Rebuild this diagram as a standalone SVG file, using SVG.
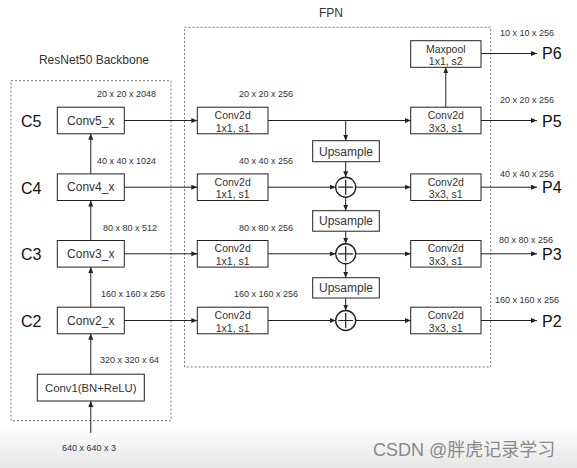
<svg xmlns="http://www.w3.org/2000/svg" width="577" height="468" viewBox="0 0 577 468">
<defs>
<marker id="ah" viewBox="0 0 6 6" refX="6" refY="3" markerWidth="6" markerHeight="6" markerUnits="userSpaceOnUse" orient="auto">
<path d="M0,0.5 L6,3 L0,5.5 z" fill="#222"/>
</marker>
<linearGradient id="bg" x1="0" y1="0" x2="0" y2="1">
<stop offset="0" stop-color="#ffffff"/>
<stop offset="1" stop-color="#e6e6e6"/>
</linearGradient>
</defs>
<style>
text{font-family:"Liberation Sans",Arial,sans-serif;fill:#333}
.box{fill:#fff;stroke:#222;stroke-width:1}
.circ{fill:#fff;stroke:#222;stroke-width:1.4}
.dash{fill:none;stroke:#777;stroke-width:1;stroke-dasharray:2,2}
.ln{fill:none;stroke:#222;stroke-width:1.2}
.arr{fill:none;stroke:#222;stroke-width:1;marker-end:url(#ah)}
.t12{font-size:12px;text-anchor:middle}
.t10{font-size:10.5px;text-anchor:middle}
.dim{font-size:9px}
.big{font-size:16px;fill:#111}
.title{font-size:12px;text-anchor:middle}
</style>
<rect x="0" y="0" width="577" height="468" fill="#fff"/>
<rect x="0" y="425" width="577" height="43" fill="url(#bg)"/>

<g id="backbone">
<rect class="dash" x="11" y="80.7" width="160" height="340"/>
<text class="title" x="94" y="64">ResNet50 Backbone</text>
</g>
<g id="fpn">
<rect class="dash" x="184.5" y="27.3" width="306.2" height="339.7"/>
<text class="title" x="331" y="17">FPN</text>
</g>

<g id="conv5">
<rect class="box" x="57.3" y="107.2" width="67" height="26.6"/>
<text class="t12" x="90.8" y="124.5">Conv5_x</text>
<text class="big" x="21" y="127">C5</text>
</g>
<g id="conv4">
<rect class="box" x="57.3" y="173.9" width="67" height="26.6"/>
<text class="t12" x="90.8" y="191.2">Conv4_x</text>
<text class="big" x="21" y="193.5">C4</text>
</g>
<g id="conv3">
<rect class="box" x="57.3" y="240.5" width="67" height="26.6"/>
<text class="t12" x="90.8" y="257.8">Conv3_x</text>
<text class="big" x="21" y="260">C3</text>
</g>
<g id="conv2">
<rect class="box" x="57.3" y="307.2" width="67" height="26.6"/>
<text class="t12" x="90.8" y="324.5">Conv2_x</text>
<text class="big" x="21" y="327">C2</text>
</g>
<g id="conv1">
<rect class="box" x="37.3" y="374.2" width="107" height="26.8"/>
<text class="t12" x="90.8" y="391.8" style="font-size:11.3px">Conv1(BN+ReLU)</text>
</g>

<g id="lat5">
<rect class="box" x="197.3" y="107.2" width="70.7" height="26.6"/>
<text class="t10" x="232.7" y="119">Conv2d</text>
<text class="t10" x="232.7" y="131.5">1x1, s1</text>
</g>
<g id="lat4">
<rect class="box" x="197.3" y="173.9" width="70.7" height="26.6"/>
<text class="t10" x="232.7" y="185.7">Conv2d</text>
<text class="t10" x="232.7" y="198.2">1x1, s1</text>
</g>
<g id="lat3">
<rect class="box" x="197.3" y="240.5" width="70.7" height="26.6"/>
<text class="t10" x="232.7" y="252.3">Conv2d</text>
<text class="t10" x="232.7" y="264.8">1x1, s1</text>
</g>
<g id="lat2">
<rect class="box" x="197.3" y="307.2" width="70.7" height="26.6"/>
<text class="t10" x="232.7" y="319">Conv2d</text>
<text class="t10" x="232.7" y="331.5">1x1, s1</text>
</g>

<g id="up1">
<rect class="box" x="312.7" y="140.7" width="66.6" height="21"/>
<text class="t12" x="346" y="155.5">Upsample</text>
</g>
<g id="up2">
<rect class="box" x="312.7" y="210.7" width="66.6" height="20.5"/>
<text class="t12" x="346" y="225.2">Upsample</text>
</g>
<g id="up3">
<rect class="box" x="312.7" y="277.7" width="66.6" height="20.3"/>
<text class="t12" x="346" y="292">Upsample</text>
</g>

<g id="add4">
<circle class="circ" cx="345.7" cy="187.2" r="10"/>
<path class="ln" d="M338.2,187.2 H353.2 M345.7,179.7 V194.7"/>
</g>
<g id="add3">
<circle class="circ" cx="345.7" cy="253.8" r="10"/>
<path class="ln" d="M338.2,253.8 H353.2 M345.7,246.3 V261.3"/>
</g>
<g id="add2">
<circle class="circ" cx="345.7" cy="320.5" r="10"/>
<path class="ln" d="M338.2,320.5 H353.2 M345.7,313 V328"/>
</g>

<g id="maxpool">
<rect class="box" x="410.7" y="40.7" width="70.3" height="26.6"/>
<text class="t10" x="445.8" y="52.5">Maxpool</text>
<text class="t10" x="445.8" y="65">1x1, s2</text>
</g>
<g id="out5">
<rect class="box" x="410.7" y="107.2" width="70.3" height="26.6"/>
<text class="t10" x="445.8" y="119">Conv2d</text>
<text class="t10" x="445.8" y="131.5">3x3, s1</text>
</g>
<g id="out4">
<rect class="box" x="410.7" y="173.9" width="70.3" height="26.6"/>
<text class="t10" x="445.8" y="185.7">Conv2d</text>
<text class="t10" x="445.8" y="198.2">3x3, s1</text>
</g>
<g id="out3">
<rect class="box" x="410.7" y="240.5" width="70.3" height="26.6"/>
<text class="t10" x="445.8" y="252.3">Conv2d</text>
<text class="t10" x="445.8" y="264.8">3x3, s1</text>
</g>
<g id="out2">
<rect class="box" x="410.7" y="307.2" width="70.3" height="26.6"/>
<text class="t10" x="445.8" y="319">Conv2d</text>
<text class="t10" x="445.8" y="331.5">3x3, s1</text>
</g>

<g id="outputs">
<text class="big" x="542" y="59">P6</text>
<text class="big" x="542" y="126.5">P5</text>
<text class="big" x="542" y="193.2">P4</text>
<text class="big" x="542" y="259.8">P3</text>
<text class="big" x="542" y="326.5">P2</text>
</g>

<g id="connectors">
<path class="arr" d="M90.8,433 V401"/>
<path class="arr" d="M90.8,374.2 V333.8"/>
<path class="arr" d="M90.8,307.2 V267.1"/>
<path class="arr" d="M90.8,240.5 V200.5"/>
<path class="arr" d="M90.8,173.9 V133.8"/>
<path class="arr" d="M124.3,120.5 H197.3"/>
<path class="arr" d="M124.3,187.2 H197.3"/>
<path class="arr" d="M124.3,253.8 H197.3"/>
<path class="arr" d="M124.3,320.5 H197.3"/>
<path class="arr" d="M268,120.5 H410.7"/>
<path class="arr" d="M345.7,120.5 V140.7"/>
<path class="arr" d="M345.7,161.7 V177.2"/>
<path class="arr" d="M345.7,197.2 V210.7"/>
<path class="arr" d="M345.7,231.2 V243.8"/>
<path class="arr" d="M345.7,263.8 V277.7"/>
<path class="arr" d="M345.7,298 V310.5"/>
<path class="arr" d="M268,187.2 H335.7"/>
<path class="arr" d="M268,253.8 H335.7"/>
<path class="arr" d="M268,320.5 H335.7"/>
<path class="arr" d="M355.7,187.2 H410.7"/>
<path class="arr" d="M355.7,253.8 H410.7"/>
<path class="arr" d="M355.7,320.5 H410.7"/>
<path class="arr" d="M445.8,107.2 V67.3"/>
<path class="arr" d="M481,53.5 H537"/>
<path class="arr" d="M481,120.5 H537"/>
<path class="arr" d="M481,187.2 H537"/>
<path class="arr" d="M481,253.8 H537"/>
<path class="arr" d="M481,320.5 H537"/>
</g>

<g id="dims">
<text class="dim" x="97" y="97">20 x 20 x 2048</text>
<text class="dim" x="97" y="164">40 x 40 x 1024</text>
<text class="dim" x="103" y="231">80 x 80 x 512</text>
<text class="dim" x="101" y="297">160 x 160 x 256</text>
<text class="dim" x="100" y="363">320 x 320 x 64</text>
<text class="dim" x="62" y="451">640 x 640 x 3</text>
<text class="dim" x="239" y="97">20 x 20 x 256</text>
<text class="dim" x="239" y="164">40 x 40 x 256</text>
<text class="dim" x="239" y="231">80 x 80 x 256</text>
<text class="dim" x="234" y="297">160 x 160 x 256</text>
<text class="dim" x="500" y="36">10 x 10 x 256</text>
<text class="dim" x="500" y="103">20 x 20 x 256</text>
<text class="dim" x="500" y="177">40 x 40 x 256</text>
<text class="dim" x="499" y="243">80 x 80 x 256</text>
<text class="dim" x="495" y="303">160 x 160 x 256</text>
</g>

<text x="373" y="456" style="font-family:'Liberation Sans','Noto Sans CJK SC',sans-serif;font-size:18px;fill:#8a8a8a">CSDN @胖虎记录学习</text>
</svg>
